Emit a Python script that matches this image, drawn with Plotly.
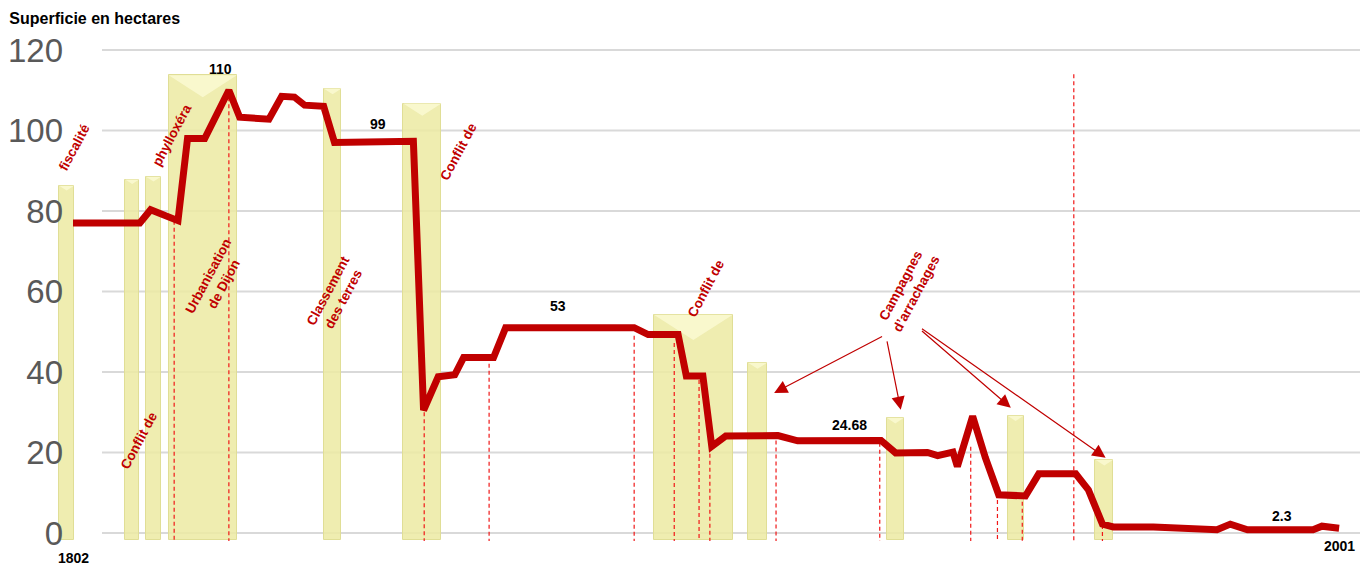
import plotly.graph_objects as go

# ---- data ----
years = [1802, 1812.5, 1814.2, 1818.5, 1820, 1822.7, 1826.5, 1828.2, 1832.8, 1834.8,
         1836.8, 1838.4, 1841.4, 1843.1, 1855.5, 1857.1, 1859.4, 1862, 1863.4, 1868.1,
         1870, 1890.2, 1892.4, 1897.1, 1898.4, 1901, 1902.4, 1904.6, 1912.8, 1915.9,
         1929, 1931.3, 1936.3, 1937.9, 1940.3, 1941, 1943.4, 1945.4, 1947.5, 1951.7,
         1953.8, 1959.6, 1961.6, 1963.8, 1965.5, 1971.8, 1981.8, 1983.9, 1986.6, 1996.9,
         1998.3, 2001]
surface = [77, 77, 80.3, 77.6, 98, 98, 110, 103.3, 102.8, 108.5,
           108.3, 106.3, 106, 97, 97.3, 30.5, 38.8, 39.3, 43.6, 43.6,
           51, 51, 49.3, 49.3, 39, 39, 21.5, 24.1, 24.2, 22.9,
           23, 19.9, 20, 19.2, 20.1, 16.5, 29, 18.7, 9.5, 9.2,
           14.7, 14.7, 10.7, 2.2, 1.5, 1.5, 0.8, 2.2, 0.8, 0.8,
           1.7, 1.2]

# event bars (period centre, duration in years, height)
event_centre = [1801.0, 1811.3, 1814.65, 1822.4, 1842.8, 1856.9, 1899.5, 1909.6, 1931.25, 1950.15, 1964.1]
event_width = [2.35, 2.2, 2.35, 10.7, 2.8, 6.0, 12.4, 3.0, 2.7, 2.5, 2.8]
event_height = [86.3, 87.8, 88.5, 113.7, 110.4, 106.7, 54.2, 42.3, 28.6, 29.1, 18.2]
event_base = -1.8

# dashed markers
dash_years = [1817.9, 1826.5, 1857.2, 1867.4, 1890.2, 1896.5, 1900.4, 1902.1, 1912.5,
              1928.8, 1943.1, 1947.3, 1951.2, 1959.3, 1963.8]
dash_tops = [77.6, 110, 30, 43.8, 49, 47.2, 38, 21.4, 23, 22.4, 21.4, 8.2, 9.5, 114, 2]
dash_bottom = -2

yticks = [0, 20, 40, 60, 80, 100, 120]

value_labels = ["110", "99", "53", "24.68", "2.3"]
value_label_pos = [(1825.2, 115.2), (1849.9, 101.7), (1878.3, 56.5), (1924.1, 26.9), (1992, 4.2)]

event_texts = ["fiscalité", "phylloxéra", "Conflit de", "Urbanisation<br>de Dijon",
               "Classement<br>des terres", "Conflit de", "Conflit de", "Campagnes<br>d’arrachages"]
event_text_pos = [(1802.2, 95.8), (1817.5, 98.8), (1812.4, 22.9), (1824.6, 62.9),
                  (1843.4, 59.2), (1862.6, 94.8), (1901.5, 60.7), (1933.4, 60.4)]

arrow_tails = [(1929.4, 49), (1929.9, 48), (1935.2, 50.5), (1935.2, 51)]
arrow_heads = [(1912.2, 34.8), (1932.1, 30.6), (1949.4, 31.1), (1964.3, 18.7)]

RED = "#C00000"
X_RANGE = [1798.7, 2005.54]
Y_RANGE = [-6.71, 122.48]
PLOT_W, PLOT_H = 1318, 520

fig = go.Figure()

fig.add_trace(go.Bar(
    x=event_centre, y=[h - event_base for h in event_height], base=event_base,
    width=event_width,
    marker=dict(color="rgba(236,234,162,0.85)", line=dict(color="rgba(224,222,150,1)", width=1)),
    hoverinfo="skip", showlegend=False))

# bevel highlight (lighter top triangle of each bar)
px_per_year = PLOT_W / (X_RANGE[1] - X_RANGE[0])
px_per_unit = PLOT_H / (Y_RANGE[1] - Y_RANGE[0])
tx, ty = [], []
for c, w, h in zip(event_centre, event_width, event_height):
    depth_px = min(w * px_per_year * 0.32, 26)
    tx += [c - w / 2, c + w / 2, c, c - w / 2, None]
    ty += [h, h, h - depth_px / px_per_unit, h, None]
fig.add_trace(go.Scatter(x=tx, y=ty, mode="lines", fill="toself",
                         fillcolor="rgba(250,249,210,0.85)", line=dict(width=0),
                         hoverinfo="skip", showlegend=False))

dx, dy = [], []
for yr, top in zip(dash_years, dash_tops):
    dx += [yr, yr, None]
    dy += [top, dash_bottom, None]
fig.add_trace(go.Scatter(x=dx, y=dy, mode="lines",
                         line=dict(color="#F01818", width=1.2, dash="4px,3px"),
                         hoverinfo="skip", showlegend=False))

fig.add_trace(go.Scatter(x=years, y=surface, mode="lines",
                         line=dict(color=RED, width=7),
                         hoverinfo="skip", showlegend=False))

shapes = []
for t in yticks:
    shapes.append(dict(type="line", xref="paper", yref="y", x0=0.038, x1=1, y0=t, y1=t,
                       line=dict(color="#D9D9D9", width=2), layer="below"))

lab_font = dict(family="Liberation Sans", size=14, color="black", weight="bold")
ann = []
for txt, (x, y) in zip(value_labels, value_label_pos):
    ann.append(dict(x=x, y=y, text=txt, showarrow=False, font=lab_font))
ann.append(dict(x=years[0], y=-6.2, text="1802", showarrow=False, font=lab_font))
ann.append(dict(x=years[-1], y=-3.2, text="2001", showarrow=False, font=lab_font))
for txt, (x, y) in zip(event_texts, event_text_pos):
    ann.append(dict(x=x, y=y, text=txt, showarrow=False, textangle=-62, align="center",
                    font=dict(family="Liberation Sans", size=13.5, color=RED, weight="bold")))
for (ax_, ay_), (hx, hy) in zip(arrow_tails, arrow_heads):
    ann.append(dict(x=hx, y=hy, ax=ax_, ay=ay_, axref="x", ayref="y", text="",
                    showarrow=True, arrowhead=2, arrowsize=2.2, arrowwidth=1.2,
                    arrowcolor=RED))

fig.update_layout(
    width=1360, height=557,
    margin=dict(l=42, r=0, t=32, b=5),
    paper_bgcolor="white", plot_bgcolor="white",
    title=dict(text="<b>Superficie en hectares</b>", x=0.001, xanchor="left",
               y=0.982, yanchor="middle",
               font=dict(family="Liberation Sans", size=16, color="black")),
    xaxis=dict(range=X_RANGE, showgrid=False, zeroline=False,
               showticklabels=False, ticks="", showline=False),
    yaxis=dict(range=Y_RANGE, tickvals=yticks, showgrid=False, zeroline=False,
               ticks="", showline=False, ticklabelstandoff=-12,
               tickfont=dict(family="Liberation Sans", size=33, color="#595959")),
    shapes=shapes, annotations=ann, bargap=0,
)

fig.write_html("out.html")
